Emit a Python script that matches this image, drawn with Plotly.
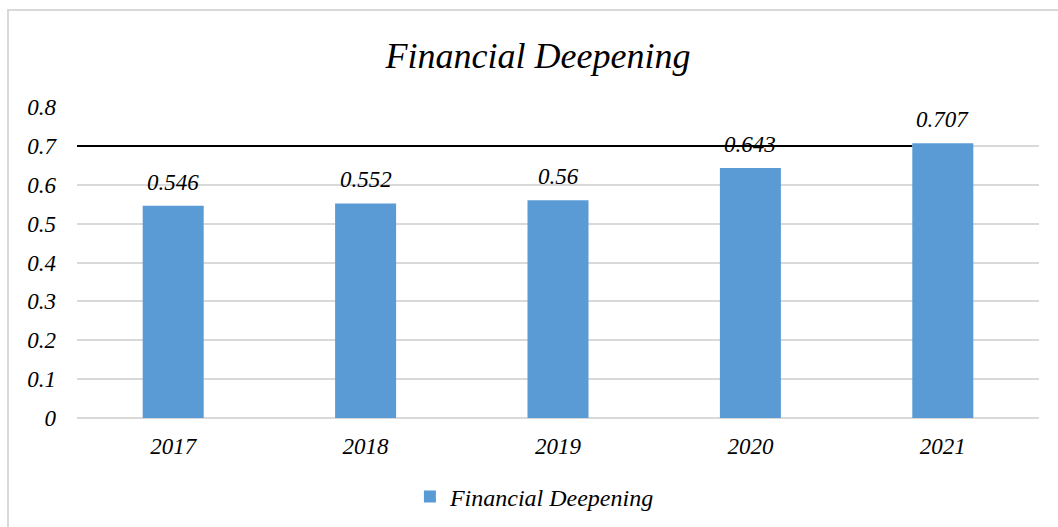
import plotly.graph_objects as go

years = ["2017", "2018", "2019", "2020", "2021"]
values = [0.546, 0.552, 0.56, 0.643, 0.707]
value_labels = ["0.546", "0.552", "0.56", "0.643", "0.707"]
series_name = "Financial Deepening"
y_ticks = [0, 0.1, 0.2, 0.3, 0.4, 0.5, 0.6, 0.7, 0.8]
y_tick_text = ["0", "0.1", "0.2", "0.3", "0.4", "0.5", "0.6", "0.7", "0.8"]
ref_line_value = 0.7

FONT = "Liberation Serif, Times New Roman, serif"
BAR_W = 0.317

fig = go.Figure()
fig.add_trace(go.Bar(
    x=years, y=values, name=series_name,
    marker=dict(color="#5B9BD5", line=dict(width=0)),
    width=BAR_W,
    showlegend=True,
))

annotations = [
    dict(x=i, y=yv, text=t, xref="x", yref="y", showarrow=False,
         yanchor="bottom", xanchor="center", yshift=9,
         font=dict(family=FONT, size=23, color="#000000", style="italic"))
    for i, (yv, t) in enumerate(zip(values, value_labels))
]

shapes = [
    # reference line at 0.7, ending at the last bar
    dict(type="line", xref="x", yref="y", x0=-0.5, x1=len(years) - 1 - BAR_W / 2,
         y0=ref_line_value, y1=ref_line_value,
         line=dict(color="#000000", width=2), layer="between"),
    # chart border (top and left visible)
    dict(type="rect", xref="paper", yref="paper",
         x0=(8 - 77) / 962, x1=1.2, y0=-0.6, y1=(418 - 10) / 311,
         line=dict(color="#d9d9d9", width=2), layer="below"),
]

fig.update_layout(
    width=1058, height=527,
    margin=dict(l=77, r=19, t=107, b=109, autoexpand=False),
    paper_bgcolor="white", plot_bgcolor="white",
    font=dict(family=FONT, color="#000000", size=23, style="italic"),
    title=dict(text=series_name, x=0.5085, xanchor="center",
               y=1 - 55 / 527, yanchor="middle",
               font=dict(family=FONT, size=36, color="#000000", style="italic")),
    xaxis=dict(type="category", range=[-0.5, len(years) - 0.5], automargin=False,
               showgrid=False, showline=False, ticks="", ticklabelstandoff=12,
               tickfont=dict(family=FONT, size=23, style="italic")),
    yaxis=dict(range=[0, 0.8], tickvals=y_ticks, ticktext=y_tick_text, automargin=False,
               showgrid=True, gridcolor="#d9d9d9", gridwidth=2,
               zeroline=True, zerolinecolor="#d9d9d9", zerolinewidth=2,
               showline=False, ticks="", ticklabelstandoff=20,
               tickfont=dict(family=FONT, size=23, style="italic")),
    legend=dict(orientation="h", x=0.476, xanchor="center",
                y=(418 - 497) / 311, yanchor="middle",
                font=dict(family=FONT, size=24, style="italic"),
                itemwidth=30),
    annotations=annotations,
    shapes=shapes,
    bargap=0.683,
)

fig.write_html("out.html",
               config={"displayModeBar": False},
               post_script="document.body.style.margin='0';document.body.style.overflow='hidden';")
